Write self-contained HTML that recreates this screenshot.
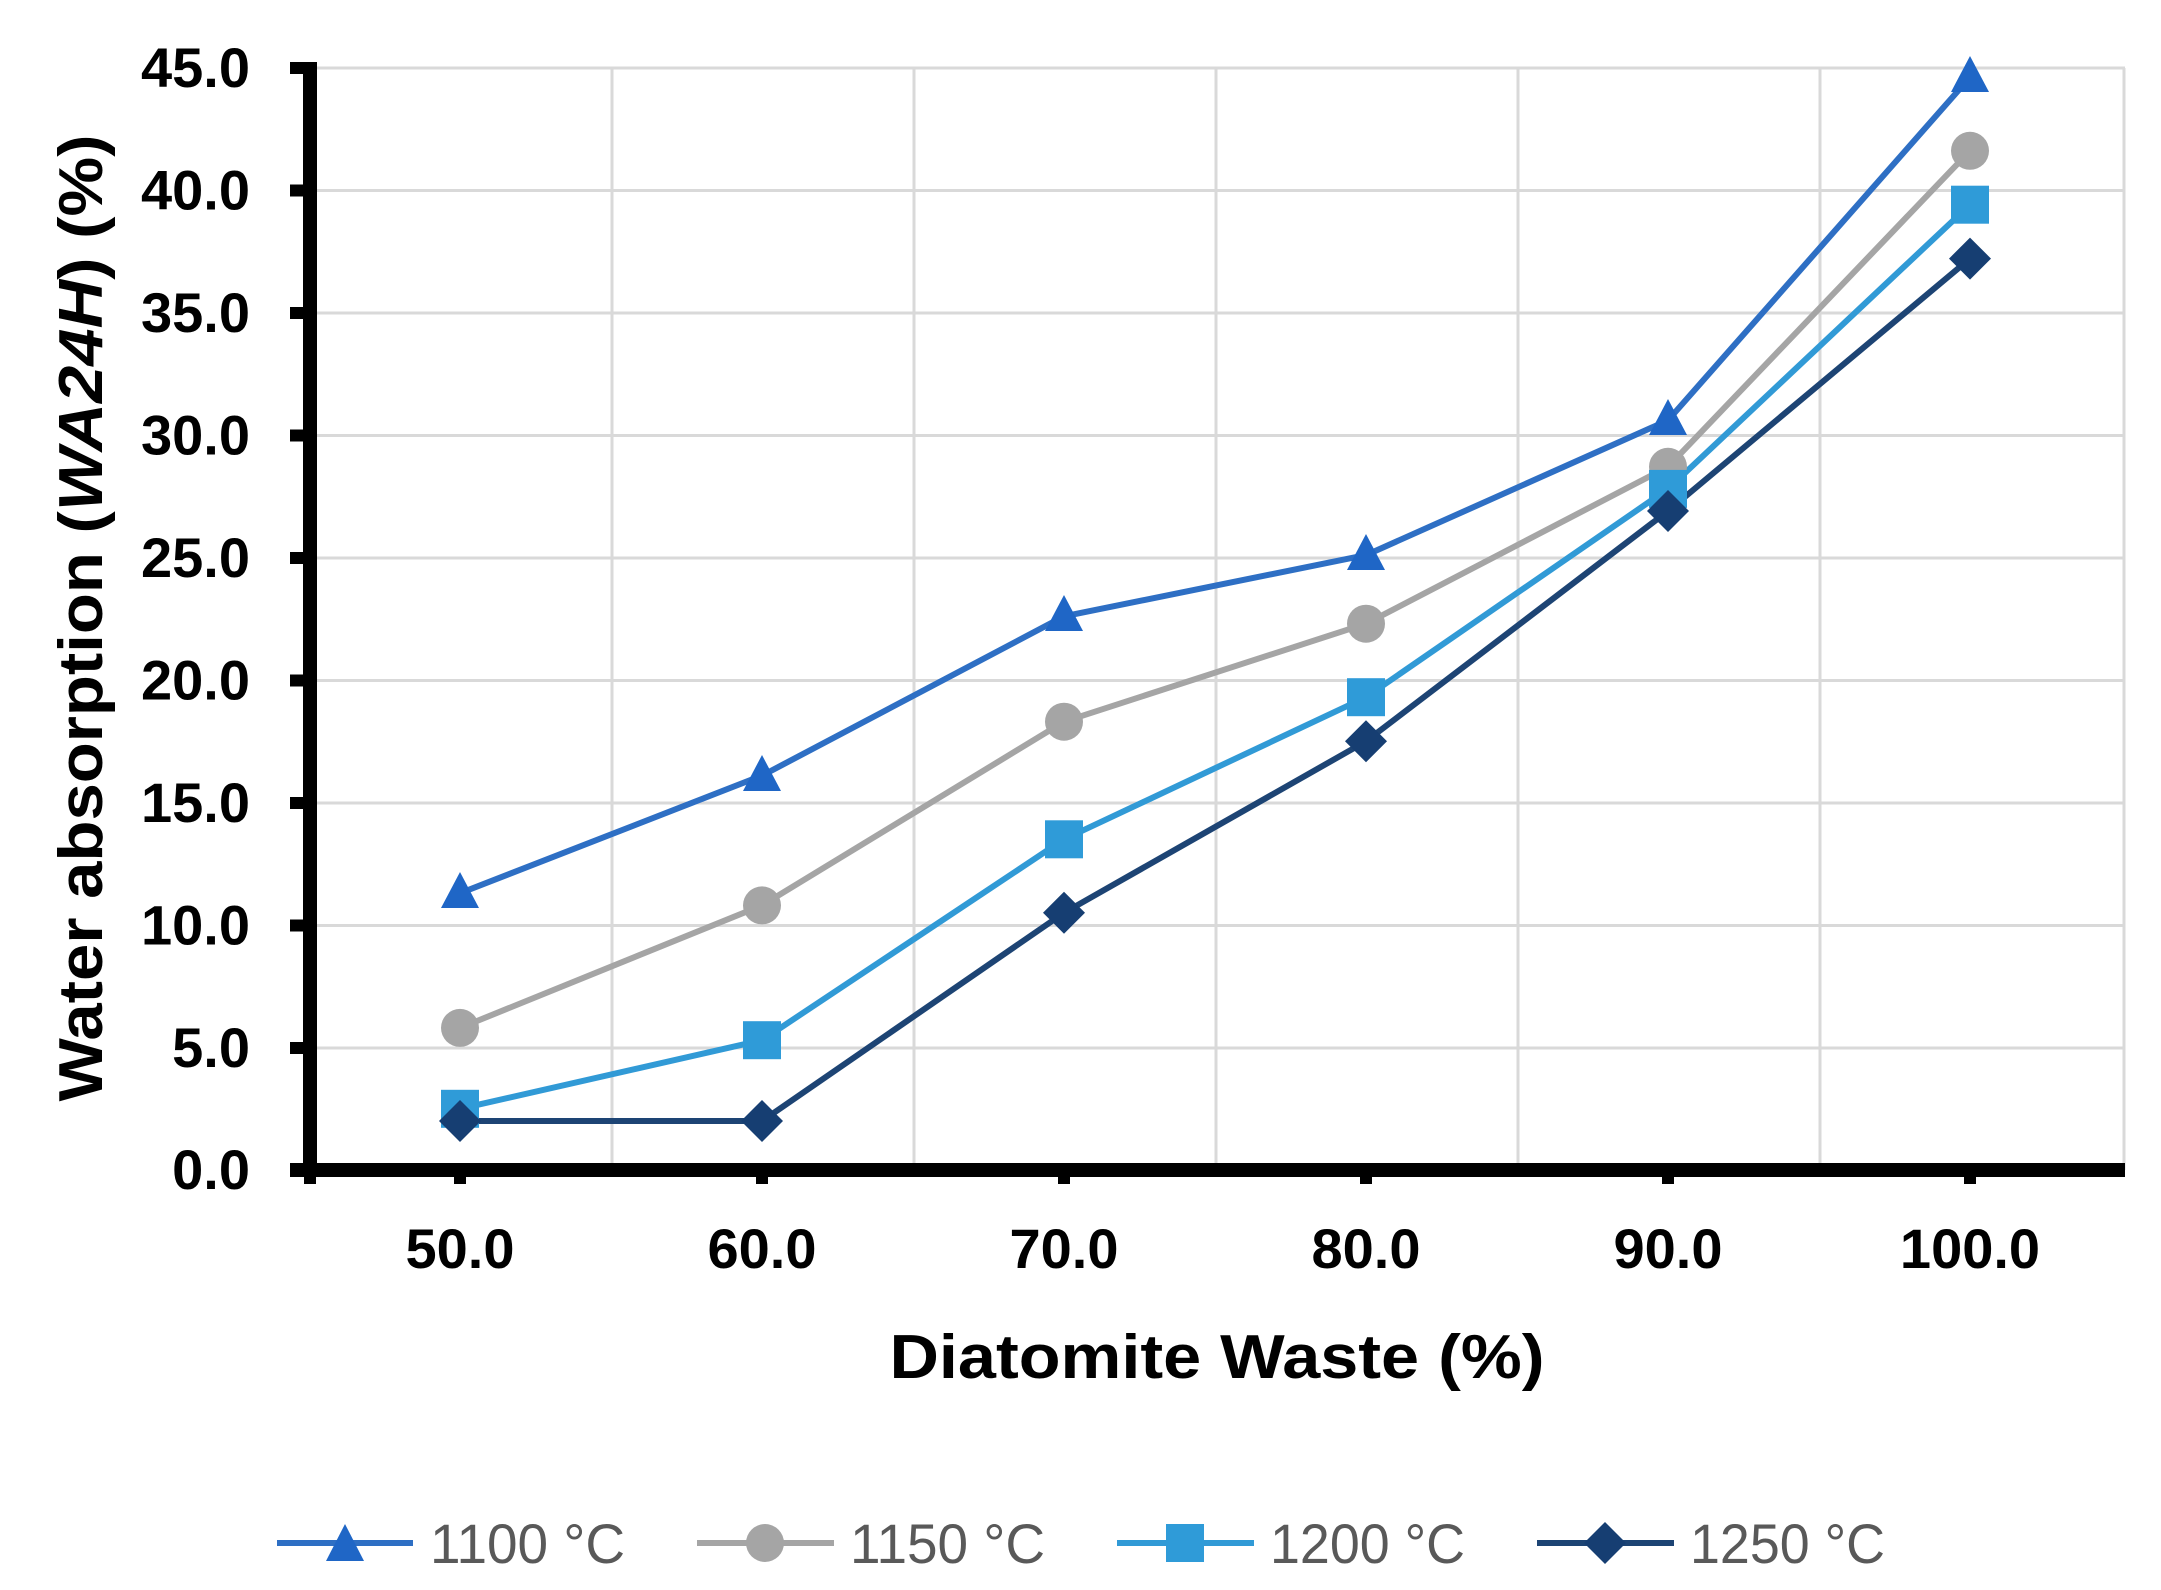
<!DOCTYPE html>
<html><head><meta charset="utf-8"><style>html,body{margin:0;padding:0;background:#fff}svg{display:block}</style></head>
<body>
<svg width="2161" height="1590" viewBox="0 0 2161 1590" xmlns="http://www.w3.org/2000/svg" font-family="Liberation Sans, sans-serif">
<g stroke="#d9d9d9" stroke-width="3" fill="none">
<line x1="310" y1="68" x2="2125" y2="68"/>
<line x1="310" y1="190.5" x2="2125" y2="190.5"/>
<line x1="310" y1="313" x2="2125" y2="313"/>
<line x1="310" y1="435.5" x2="2125" y2="435.5"/>
<line x1="310" y1="558" x2="2125" y2="558"/>
<line x1="310" y1="680.5" x2="2125" y2="680.5"/>
<line x1="310" y1="803" x2="2125" y2="803"/>
<line x1="310" y1="925.5" x2="2125" y2="925.5"/>
<line x1="310" y1="1048" x2="2125" y2="1048"/>
<line x1="612" y1="68" x2="612" y2="1170"/>
<line x1="914" y1="68" x2="914" y2="1170"/>
<line x1="1216" y1="68" x2="1216" y2="1170"/>
<line x1="1518" y1="68" x2="1518" y2="1170"/>
<line x1="1820" y1="68" x2="1820" y2="1170"/>
<line x1="2124" y1="68" x2="2124" y2="1170"/>
</g>
<g stroke="#000" stroke-width="14" fill="none">
<line x1="310" y1="62" x2="310" y2="1176"/>
<line x1="290" y1="1170" x2="2125" y2="1170"/>
</g>
<g stroke="#000" stroke-width="12">
<line x1="290" y1="68" x2="310" y2="68"/><line x1="290" y1="190.5" x2="310" y2="190.5"/><line x1="290" y1="313" x2="310" y2="313"/><line x1="290" y1="435.5" x2="310" y2="435.5"/><line x1="290" y1="558" x2="310" y2="558"/><line x1="290" y1="680.5" x2="310" y2="680.5"/><line x1="290" y1="803" x2="310" y2="803"/><line x1="290" y1="925.5" x2="310" y2="925.5"/><line x1="290" y1="1048" x2="310" y2="1048"/>
<line x1="310" y1="1170" x2="310" y2="1184"/><line x1="460" y1="1170" x2="460" y2="1184"/><line x1="762" y1="1170" x2="762" y2="1184"/><line x1="1064" y1="1170" x2="1064" y2="1184"/><line x1="1366" y1="1170" x2="1366" y2="1184"/><line x1="1668" y1="1170" x2="1668" y2="1184"/><line x1="1970" y1="1170" x2="1970" y2="1184"/>
</g>
<g font-size="56" font-weight="bold" fill="#000" text-anchor="end">
<text x="250" y="87">45.0</text><text x="250" y="209.5">40.0</text><text x="250" y="332">35.0</text><text x="250" y="454.5">30.0</text><text x="250" y="577">25.0</text><text x="250" y="699.5">20.0</text><text x="250" y="822">15.0</text><text x="250" y="944.5">10.0</text><text x="250" y="1067">5.0</text><text x="250" y="1189">0.0</text>
</g>
<g font-size="56" font-weight="bold" fill="#000" text-anchor="middle">
<text x="460" y="1268">50.0</text><text x="762" y="1268">60.0</text><text x="1064" y="1268">70.0</text><text x="1366" y="1268">80.0</text><text x="1668" y="1268">90.0</text><text x="1970" y="1268">100.0</text>
</g>
<text x="1217" y="1378" font-size="62" font-weight="bold" text-anchor="middle" textLength="655" lengthAdjust="spacingAndGlyphs">Diatomite Waste (%)</text>
<text transform="translate(102,618) rotate(-90)" font-size="62" font-weight="bold" text-anchor="middle" textLength="967" lengthAdjust="spacingAndGlyphs">Water absorption (<tspan font-style="italic">WA24H</tspan>) (%)</text>
<g fill="none" stroke-width="6" stroke-linejoin="round">
<polyline stroke="#2e6fc4" points="460,893.2 762,775.6 1064,616.3 1366,555.1 1668,420.3 1970,77.3"/>
<polyline stroke="#a5a5a5" points="460,1027.9 762,905.4 1064,721.7 1366,623.7 1668,466.8 1970,150.8"/>
<polyline stroke="#319ad6" points="460,1108.8 762,1040.2 1064,839.3 1366,697.2 1668,488.9 1970,204.7"/>
<polyline stroke="#1d4474" points="460,1121 762,1121 1064,912.8 1366,741.3 1668,511 1970,258.6"/>
</g>
<g fill="#1f66c6">
<polygon points="460,872 441,908 479,908"/><polygon points="762,755 743,791 781,791"/><polygon points="1064,595 1045,631 1083,631"/><polygon points="1366,534 1347,570 1385,570"/><polygon points="1668,399 1649,435 1687,435"/><polygon points="1970,56 1951,92 1989,92"/>
</g>
<g fill="#a5a5a5">
<circle cx="460" cy="1027.9" r="19"/><circle cx="762" cy="905.4" r="19"/><circle cx="1064" cy="721.7" r="19"/><circle cx="1366" cy="623.7" r="19"/><circle cx="1668" cy="466.8" r="19"/><circle cx="1970" cy="150.8" r="19"/>
</g>
<g fill="#2f9bd8">
<rect x="441" y="1089.8" width="38" height="38"/><rect x="743" y="1021.2" width="38" height="38"/><rect x="1045" y="820.3" width="38" height="38"/><rect x="1347" y="678.2" width="38" height="38"/><rect x="1649" y="469.9" width="38" height="38"/><rect x="1951" y="185.7" width="38" height="38"/>
</g>
<g fill="#163e72">
<polygon points="460,1100 481,1121 460,1142 439,1121"/><polygon points="762,1100 783,1121 762,1142 741,1121"/><polygon points="1064,891.8 1085,912.8 1064,933.8 1043,912.8"/><polygon points="1366,720.3 1387,741.3 1366,762.3 1345,741.3"/><polygon points="1668,490 1689,511 1668,532 1647,511"/><polygon points="1970,237.6 1991,258.6 1970,279.6 1949,258.6"/>
</g>
<g stroke-width="6">
<line x1="277" y1="1543" x2="413" y2="1543" stroke="#2e6fc4"/>
<line x1="697" y1="1543" x2="834" y2="1543" stroke="#a5a5a5"/>
<line x1="1117" y1="1543" x2="1254" y2="1543" stroke="#319ad6"/>
<line x1="1537" y1="1543" x2="1674" y2="1543" stroke="#1d4474"/>
</g>
<polygon points="345,1524 326,1561 364,1561" fill="#1f66c6"/>
<circle cx="765" cy="1543" r="19" fill="#a5a5a5"/>
<rect x="1166" y="1524" width="38" height="38" fill="#2f9bd8"/>
<polygon points="1605,1522 1626,1543 1605,1564 1584,1543" fill="#163e72"/>
<g font-size="56" fill="#595959">
<text x="430" y="1563" textLength="195" lengthAdjust="spacingAndGlyphs">1100 °C</text>
<text x="850" y="1563" textLength="195" lengthAdjust="spacingAndGlyphs">1150 °C</text>
<text x="1270" y="1563" textLength="195" lengthAdjust="spacingAndGlyphs">1200 °C</text>
<text x="1690" y="1563" textLength="195" lengthAdjust="spacingAndGlyphs">1250 °C</text>
</g>
</svg>
</body></html>
